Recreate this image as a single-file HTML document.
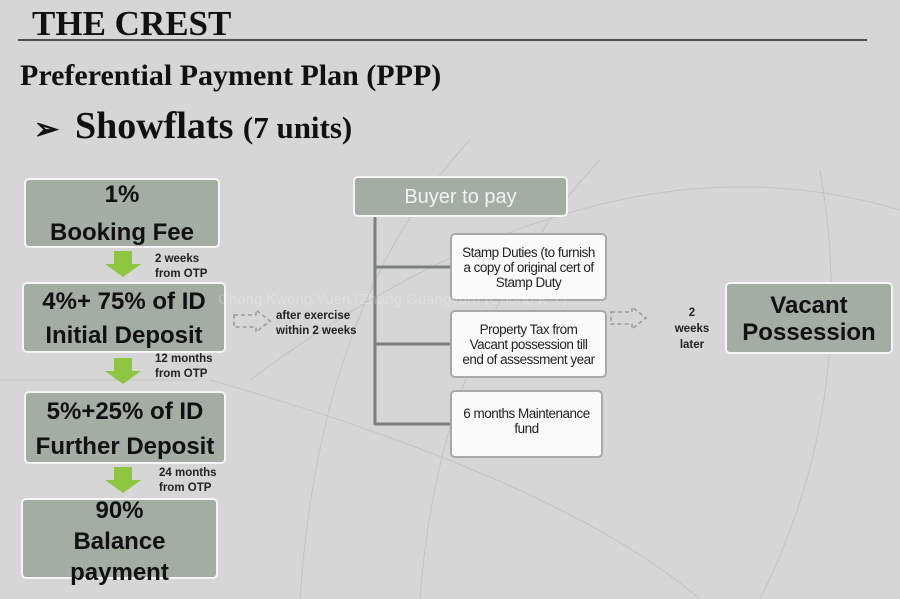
<!DOCTYPE html>
<html><head><meta charset="utf-8"><style>
body{margin:0;width:900px;height:599px;background:#d5d6d5;position:relative;overflow:hidden;font-family:"Liberation Sans",sans-serif;}
.a{position:absolute;}
.g{position:absolute;background:#a3ada4;border:2px solid #f4f5f4;border-radius:5px;box-sizing:border-box;text-align:center;font-weight:bold;color:#111;font-size:24px;line-height:33px;}
.w{position:absolute;background:#fbfbfb;border:2px solid #a8aaa8;border-radius:5px;box-sizing:border-box;text-align:center;color:#222;font-size:13.5px;line-height:15px;letter-spacing:-0.5px;display:flex;align-items:center;justify-content:center;white-space:nowrap;}
.s{position:absolute;font-weight:bold;font-size:11.5px;line-height:15px;color:#222;}
.serif{font-family:"Liberation Serif",serif;font-weight:bold;color:#111;position:absolute;white-space:nowrap;}
</style></head><body>
<svg class="a" style="left:0;top:0" width="900" height="599">
<g fill="none" stroke="#c2c4c2" stroke-width="1">
<path d="M250 380 Q600 120 900 210"/>
<path d="M210 380 Q560 480 700 599"/>
<path d="M420 599 Q440 330 600 160"/>
<path d="M300 599 Q320 300 470 140"/>
<path d="M820 170 Q860 400 760 599"/>
<path d="M0 380 L200 380"/>
</g>
<line x1="18" y1="40" x2="867" y2="40" stroke="#222" stroke-width="1.5"/>
<g fill="#8fc641">
<path d="M114 251h18v13h9l-18 13l-18-13h9z"/>
<path d="M114 358h18v13h9l-18 13l-18-13h9z"/>
<path d="M114 467h18v13h9l-18 13l-18-13h9z"/>
</g>
<g stroke="#7c807c" stroke-width="3" fill="none">
<line x1="375" y1="216" x2="375" y2="425"/>
<line x1="375" y1="267" x2="451" y2="267"/>
<line x1="375" y1="344" x2="451" y2="344"/>
<line x1="375" y1="424" x2="451" y2="424"/>
</g>
<g stroke="#999c99" stroke-width="1.6" fill="none" stroke-dasharray="4,3">
<path d="M234 315h22v-5l14 11l-14 11v-5h-22z"/>
<path d="M611 312h21v-5l14 11l-14 11v-5h-21z"/>
</g>
</svg>
<div class="serif" style="left:32px;top:4px;font-size:35px;">THE CREST</div>
<div class="serif" style="left:20px;top:59px;font-size:30px;">Preferential Payment Plan (PPP)</div>
<div class="serif" style="left:34px;top:112px;font-size:30px;">➢</div>
<div class="serif" style="left:75px;top:104px;font-size:38px;">Showflats <span style="font-size:31px">(7 units)</span></div>

<div class="g" style="left:24px;top:178px;width:196px;height:70px;line-height:38px;padding-top:0;"><div style="margin-top:-4px">1%<br>Booking Fee</div></div>
<div class="g" style="left:22px;top:282px;width:204px;height:71px;line-height:34px;padding-top:1px;">4%+ 75% of ID<br>Initial Deposit</div>
<div class="g" style="left:24px;top:391px;width:202px;height:73px;line-height:35px;padding-top:1px;">5%+25% of ID<br>Further Deposit</div>
<div class="g" style="left:21px;top:498px;width:197px;height:81px;line-height:27px;padding-top:0;"><div style="margin-top:-3px">90%<br><span style="line-height:35px">Balance</span><br>payment</div></div>

<div class="s" style="left:155px;top:252px;">2 weeks<br>from OTP</div>
<div class="s" style="left:155px;top:352px;">12 months<br>from OTP</div>
<div class="s" style="left:159px;top:466px;">24 months<br>from OTP</div>
<div class="s" style="left:276px;top:309px;">after exercise<br>within 2 weeks</div>
<div class="s" style="left:670px;top:305px;text-align:center;width:44px;line-height:16px;">2<br>weeks<br>later</div>

<div class="g" style="left:353px;top:176px;width:215px;height:41px;color:#f2f3f2;font-weight:normal;font-size:20px;line-height:38px;">Buyer to pay</div>
<div class="w" style="left:450px;top:233px;width:157px;height:68px;">Stamp Duties (to furnish<br>a copy of original cert of<br>Stamp Duty</div>
<div class="w" style="left:450px;top:310px;width:157px;height:68px;">Property Tax from<br>Vacant possession till<br>end of assessment year</div>
<div class="w" style="left:450px;top:390px;width:153px;height:68px;padding-bottom:6px;">6 months Maintenance<br>fund</div>

<div class="g" style="left:725px;top:282px;width:168px;height:72px;font-size:24px;line-height:27px;padding-top:8px;">Vacant<br>Possession</div>
<div class="a" style="left:218px;top:291px;font-size:15px;color:rgba(255,255,255,0.22);white-space:nowrap;">Chong Kwong Yuen (Zhang Guangyun) (Chong K Y)</div>
</body></html>
